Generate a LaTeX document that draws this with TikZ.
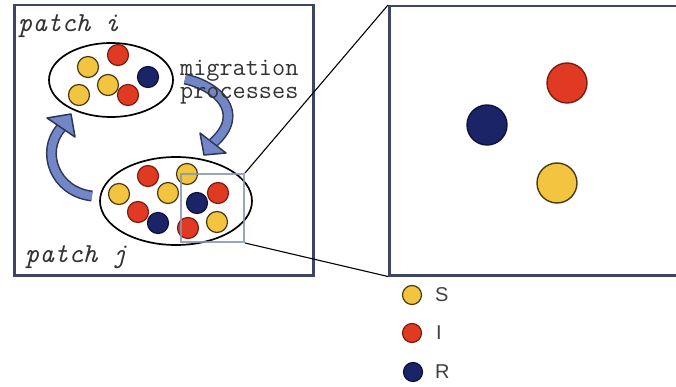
\documentclass[tikz,border=0pt]{standalone}
\usepackage{fontspec}
\setmainfont{Liberation Sans}
\usetikzlibrary{shapes.geometric}
\definecolor{frame}{HTML}{3D4666}
\definecolor{sy}{HTML}{F2C440}
\definecolor{syo}{HTML}{4A3A12}
\definecolor{ir}{HTML}{E03A22}
\definecolor{iro}{HTML}{7A1E12}
\definecolor{rn}{HTML}{1C2468}
\definecolor{rno}{HTML}{0E1238}
\definecolor{arr}{HTML}{7288C6}
\definecolor{arro}{HTML}{2E3658}
\definecolor{sq}{HTML}{8894B4}
\tikzset{
  box/.style={draw=frame, line width=2.5pt, inner sep=0pt, anchor=north west},
  patch/.style={draw=black, ellipse, line width=1.7pt, inner sep=0pt},
  dot/.style={circle, line width=1.2pt, inner sep=0pt, minimum size=21pt},
  bigdot/.style={circle, line width=1.4pt, inner sep=0pt, minimum size=40pt},
  legdot/.style={circle, line width=1.2pt, inner sep=0pt, minimum size=19pt},
  S/.style={fill=sy, draw=syo},
  I/.style={fill=ir, draw=iro},
  R/.style={fill=rn, draw=rno},
  ptext/.style={font=\ttfamily\itshape\fontsize{27.5}{27.5}\selectfont, inner sep=0pt, anchor=base west, text=black!80},
  mtext/.style={font=\ttfamily\fontsize{25.5}{23}\selectfont, inner sep=0pt, anchor=base west, align=left, text=black!80},
  legtext/.style={font=\fontsize{20}{20}\selectfont, inner sep=0pt, anchor=west, text=black!75},
  fatout/.style={draw=arro, line width=11pt},
  fatin/.style={draw=arr, line width=8pt},
  fathead/.style={fill=arr, draw=arro, line width=1.5pt, line join=round},
}
\begin{document}
\begin{tikzpicture}[x=1pt,y=-1pt]
\useasboundingbox (0,0) rectangle (676,387);

% frames
\node[box, minimum width=299pt, minimum height=270pt] (left) at (13,4) {};
\node[box, minimum width=292pt, minimum height=269pt] (big) at (388,5) {};

% patches
\node[patch, minimum width=124pt, minimum height=74pt] (pi) at (111,80) {};
\node[patch, minimum width=152pt, minimum height=88pt] (pj) at (176,201) {};

% dots in patch i
\node[dot,S] (a1) at (88,67) {};
\node[dot,I] (a2) at (118,55) {};
\node[dot,R] (a3) at (148,77) {};
\node[dot,S] (a4) at (108,85) {};
\node[dot,I] (a5) at (128,95) {};
\node[dot,S] (a6) at (79,95) {};

% dots in patch j
\node[dot,I] (b1) at (148,176) {};
\node[dot,S] (b2) at (187,174) {};
\node[dot,S] (b3) at (119,194) {};
\node[dot,S] (b4) at (168,193) {};
\node[dot,R] (b5) at (197,203) {};
\node[dot,I] (b6) at (218,193) {};
\node[dot,I] (b7) at (138,212) {};
\node[dot,R] (b8) at (158,223) {};
\node[dot,I] (b9) at (188,228) {};
\node[dot,S] (b10) at (217,222) {};

% zoom square
\node[draw=sq, draw opacity=0.85, line width=2pt, inner sep=0pt, anchor=north west,
      minimum width=63pt, minimum height=68pt] (zoom) at (180,173) {};
\draw[line width=1.1pt] (zoom.north east) -- (big.north west);
\draw[line width=1.1pt] (zoom.south east) -- (big.south west);

% migration arrows
\draw[fatout] (185,79) .. controls (215,85) and (248,112) .. (213,143);
\draw[fatin]  (185,79) .. controls (215,85) and (248,112) .. (213,143);
\filldraw[fathead] (200,133) -- (226,153) -- (204,155) -- cycle;

\draw[fatout] (92,196) .. controls (55,192) and (40,152) .. (61,128);
\draw[fatin]  (92,196) .. controls (55,192) and (40,152) .. (61,128);
\filldraw[fathead] (47,118) -- (75,137) -- (71,114) -- cycle;

% texts
\node[ptext] (ti) at (18,32) {patch i};
\node[ptext] (tj) at (25,262) {patch j};
\node[mtext] (mig) at (180,99) {migration\\processes};

% zoomed view
\node[bigdot,I] (c1) at (567,83) {};
\node[bigdot,R] (c2) at (487,125) {};
\node[bigdot,S] (c3) at (557,183) {};

% legend
\node[legdot,S] (ls) at (412,295) {};
\node[legdot,I] (li) at (412,333) {};
\node[legdot,R] (lr) at (413,372) {};
\node[legtext] (lst) at (435,295) {S};
\node[legtext] (lit) at (436,333) {I};
\node[legtext] (lrt) at (435,372) {R};
\end{tikzpicture}
\end{document}
